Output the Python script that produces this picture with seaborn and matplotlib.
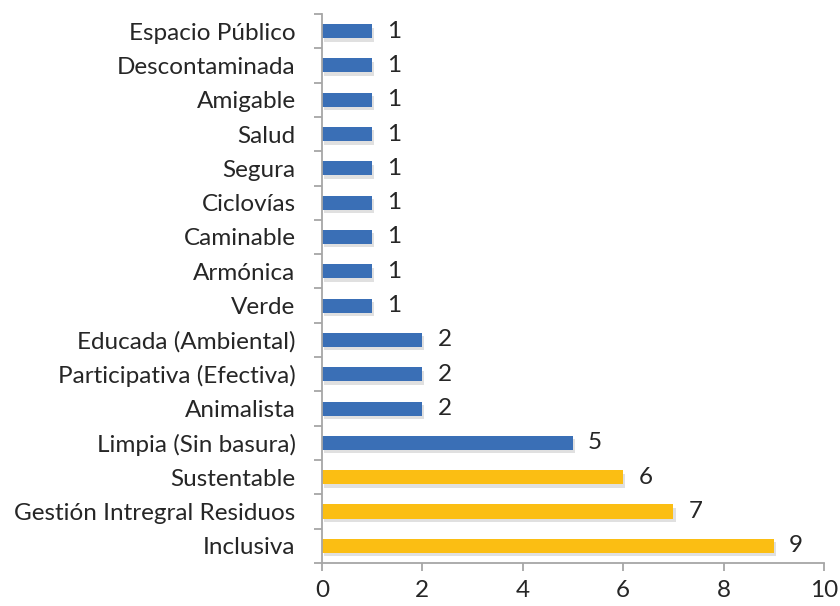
import matplotlib
matplotlib.use("Agg")
import matplotlib.pyplot as plt
import matplotlib.patheffects as pe
import seaborn as sns
import pandas as pd
import numpy as np

categories = ["Espacio Público", "Descontaminada", "Amigable", "Salud", "Segura",
              "Ciclovías", "Caminable", "Armónica", "Verde", "Educada (Ambiental)",
              "Participativa (Efectiva)", "Animalista", "Limpia (Sin basura)",
              "Sustentable", "Gestión Intregral Residuos", "Inclusiva"]
values = [1, 1, 1, 1, 1, 1, 1, 1, 1, 2, 2, 2, 5, 6, 7, 9]
groups = ["otros"] * 13 + ["top"] * 3
x_ticks = [0, 2, 4, 6, 8, 10]

df = pd.DataFrame({"cat": categories, "val": values, "grp": groups})

sns.set_theme(style="white")
plt.rcParams["font.family"] = ["Lato", "DejaVu Sans"]
text_color = "#262626"
spine_color = "#a6a6a6"
fs = 17.5

fig = plt.figure(figsize=(8.4, 6.06), dpi=100)
ax = fig.add_axes([0.3833, 0.071, 0.5977, 0.906])

palette = {"otros": "#3a6fb6", "top": "#fbbe13"}
sns.barplot(data=df, x="val", y="cat", hue="grp", palette=palette, order=categories,
            dodge=False, width=0.41, legend=False, ax=ax, saturation=1, linewidth=0)

for p in ax.patches:
    p.set_path_effects([pe.SimplePatchShadow(offset=(1.5, -2.5), alpha=0.12, shadow_rgbFace="#000000"),
                        pe.Normal()])

for i, v in enumerate(values):
    ax.text(v + 0.3, i, str(v), va="center", ha="left", fontsize=fs, color=text_color)

ax.set_xlim(0, 10)
ax.set_ylim(len(categories) - 0.5, -0.5)
ax.set_xticks(x_ticks)
ax.set_xticklabels([str(t) for t in x_ticks])
ax.set_xlabel("")
ax.set_ylabel("")

ax.set_yticks(np.arange(len(categories)))
ax.set_yticklabels(categories)
ax.set_yticks(np.arange(-0.5, len(categories)), minor=True)
ax.tick_params(axis="y", which="major", length=0, pad=19, labelsize=fs, labelcolor=text_color)
ax.tick_params(axis="y", which="minor", left=True, length=6, width=1.3, color=spine_color, direction="out")
ax.tick_params(axis="x", which="major", bottom=True, length=6, width=1.3, color=spine_color,
               direction="out", pad=6, labelsize=fs, labelcolor=text_color)

for s in ["top", "right"]:
    ax.spines[s].set_visible(False)
for s in ["left", "bottom"]:
    ax.spines[s].set_color(spine_color)
    ax.spines[s].set_linewidth(1.3)

fig.savefig("out.png", dpi=100)
